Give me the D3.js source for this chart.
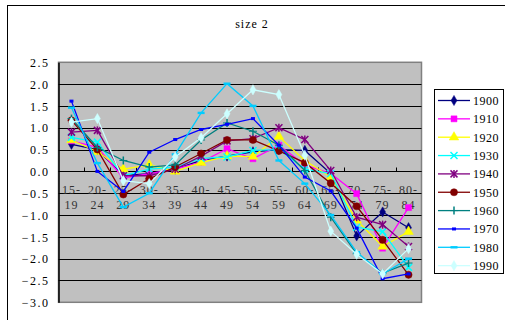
<!DOCTYPE html>
<html>
<head>
<meta charset="utf-8">
<script src="https://cdn.jsdelivr.net/npm/d3@7"></script>
<style>
  html, body { margin: 0; padding: 0; background: #fff; }
  svg { display: block; }
  text { font-family: "Liberation Serif", "DejaVu Serif", serif; fill: #000; }
</style>
</head>
<body>
<svg id="chart" width="505" height="320"></svg>
<script>
// Age groups (upper line / lower line of each label)
const ageTop = ["15-","20-","25-","30-","35-","40-","45-","50-","55-","60-","65-","70-","75-","80-"];
const ageBottom = ["19","24","29","34","39","44","49","54","59","64","69","74","79","84"];
const categories = ageTop.map((t, i) => t + ageBottom[i]);

const yTicks = [2.5, 2.0, 1.5, 1.0, 0.5, 0.0, -0.5, -1.0, -1.5, -2.0, -2.5, -3.0];

// One series per birth cohort
const cohorts = ["1900","1910","1920","1930","1940","1950","1960","1970","1980","1990"];
const v1900 = [0.62, 0.50, -0.10, -0.05, 0.05, 0.25, 0.35, 0.45, 0.50, 0.48, -0.05, -1.48, -0.93, -1.29];
const v1910 = [0.70, 0.55, -0.15, -0.05, 0.05, 0.21, 0.52, 0.29, 0.60, 0.15, -0.05, -0.51, -1.76, -0.83];
const v1920 = [0.72, 0.45, 0.05, 0.15, 0.00, 0.20, 0.35, 0.34, 0.80, 0.25, -0.13, -1.12, -1.72, -1.38];
const v1930 = [0.78, 0.67, -0.10, 0.05, 0.10, 0.30, 0.33, 0.48, 0.50, 0.05, -0.05, -1.28, -1.38, -2.20];
const v1940 = [0.90, 0.94, -0.10, -0.10, 0.05, 0.35, 0.70, 0.75, 1.00, 0.73, 0.02, -1.05, -1.22, -1.72];
const v1950 = [1.17, 0.50, -0.53, -0.17, 0.10, 0.41, 0.72, 0.72, 0.47, 0.20, -0.27, -0.80, -1.57, -2.37];
const v1960 = [1.21, 0.55, 0.25, 0.10, 0.15, 0.72, 1.11, 0.92, 0.60, 0.02, -1.05, -1.89, -2.33, -2.10];
const v1970 = [1.61, 0.00, -0.46, 0.44, 0.73, 0.96, 1.08, 1.21, 0.60, -0.13, -0.45, -1.30, -2.46, -2.35];
const v1980 = [1.46, 0.19, -0.82, -0.50, 0.39, 1.34, 2.01, 1.50, 0.25, -0.28, -1.00, -1.85, -2.35, -2.00];
const v1990 = [1.13, 1.21, -0.21, -0.28, 0.33, 0.77, 1.32, 1.87, 1.76, 0.37, -1.37, -1.90, -2.35, -1.77];
const seriesValues = [v1900, v1910, v1920, v1930, v1940, v1950, v1960, v1970, v1980, v1990];

const colors = ["#000080","#ff00ff","#ffff00","#00ffff","#800080","#800000","#008080","#0000ff","#00ccff","#ccffff"];
const markers = ["diamond","square","triangle","x","star","circle","plus","smallsq","dash","diamond"];

const svg = d3.select("#chart");

// Chart frame
svg.append("rect")
  .attr("x", 7.5).attr("y", 5.5).attr("width", 600).attr("height", 400)
  .attr("fill", "#fff").attr("stroke", "#000").attr("stroke-width", 1);

svg.append("text")
  .attr("x", 252).attr("y", 28)
  .attr("text-anchor", "middle")
  .style("font-size", "12px").style("letter-spacing", "1px")
  .text("size 2");

const plot = { left: 58.5, right: 421.5, top: 62.3, bottom: 302.3 };

const x = d3.scaleBand().domain(categories).range([plot.left, plot.right]).padding(0);
const y = d3.scaleLinear().domain([-3, 2.5]).range([plot.bottom, plot.top]);
const cx = c => x(c) + x.bandwidth() / 2;

// Plot area
svg.append("rect")
  .attr("x", plot.left).attr("y", plot.top)
  .attr("width", plot.right - plot.left).attr("height", plot.bottom - plot.top)
  .attr("fill", "#c0c0c0").attr("stroke", "#808080").attr("stroke-width", 1.5);

// Horizontal gridlines
svg.append("g")
  .selectAll("line")
  .data(yTicks.filter(t => t > -3 && t < 2.5))
  .join("line")
  .attr("x1", plot.left).attr("x2", plot.right)
  .attr("y1", d => Math.round(y(d)) + 0.5).attr("y2", d => Math.round(y(d)) + 0.5)
  .attr("stroke", "#000").attr("stroke-width", 1);

// Y axis
const yAxis = d3.axisLeft(y).tickValues(yTicks).tickSize(0).tickPadding(9)
  .tickFormat(d3.format(".1f"));
const gy = svg.append("g").attr("transform", `translate(${plot.left},0)`).call(yAxis);
gy.attr("font-family", null);
gy.select(".domain").attr("stroke", "#000").attr("stroke-width", 1.5);
gy.selectAll("text")
  .style("font-family", "'Liberation Serif', serif")
  .style("font-size", "12px").style("letter-spacing", "1.5px")
  .attr("dy", "0.35em")
  .text(d => d3.format(".1f")(d).replace("-", "\u2212"));

// X axis along zero
const y0 = Math.round(y(0)) + 0.5;
svg.append("line")
  .attr("x1", plot.left).attr("x2", plot.right)
  .attr("y1", y0).attr("y2", y0)
  .attr("stroke", "#000").attr("stroke-width", 1.2);
svg.append("g").selectAll("line")
  .data(categories.slice(1))
  .join("line")
  .attr("x1", d => Math.round(x(d)) + 0.5).attr("x2", d => Math.round(x(d)) + 0.5)
  .attr("y1", y0 - 4).attr("y2", y0)
  .attr("stroke", "#000");

const xl = svg.append("g").selectAll("text")
  .data(categories)
  .join("text")
  .attr("text-anchor", "middle")
  .style("font-size", "12px").style("letter-spacing", "1px")
  .style("fill", "#333");
xl.append("tspan").attr("x", d => cx(d)).attr("y", 194).text((d, i) => ageTop[i]);
xl.append("tspan").attr("x", d => cx(d)).attr("y", 209).text((d, i) => ageBottom[i]);

// Marker drawing
function drawMarker(g, type, color, px, py) {
  const sym = (t, size) => g.append("path")
    .attr("d", d3.symbol(t, size)())
    .attr("transform", `translate(${px},${py})`)
    .attr("fill", color).attr("stroke", color).attr("stroke-width", 0.5);
  const seg = (x1, y1, x2, y2, w) => g.append("line")
    .attr("x1", px + x1).attr("y1", py + y1).attr("x2", px + x2).attr("y2", py + y2)
    .attr("stroke", color).attr("stroke-width", w);
  switch (type) {
    case "diamond": sym(d3.symbolDiamond, 30); break;
    case "square": sym(d3.symbolSquare, 36); break;
    case "triangle": sym(d3.symbolTriangle, 40); break;
    case "circle": sym(d3.symbolCircle, 40); break;
    case "x": seg(-3.5, -3.5, 3.5, 3.5, 1.5); seg(-3.5, 3.5, 3.5, -3.5, 1.5); break;
    case "star":
      seg(-3.5, -3.5, 3.5, 3.5, 1.5); seg(-3.5, 3.5, 3.5, -3.5, 1.5); seg(0, -4, 0, 4, 1.5); break;
    case "plus": seg(-4, 0, 4, 0, 1); seg(0, -4, 0, 4, 1.5); break;
    case "smallsq":
      g.append("rect").attr("x", px - 2).attr("y", py - 1.5).attr("width", 4).attr("height", 3)
        .attr("fill", color); break;
    case "dash":
      g.append("rect").attr("x", px - 3.5).attr("y", py - 1.2).attr("width", 7).attr("height", 2.4)
        .attr("fill", color); break;
  }
}

// Series lines and markers
const line = d3.line().x((d, i) => cx(categories[i])).y(d => y(d));
seriesValues.forEach((vals, s) => {
  const g = svg.append("g");
  g.append("path")
    .attr("d", line(vals))
    .attr("fill", "none").attr("stroke", colors[s]).attr("stroke-width", 1.3);
  vals.forEach((v, i) => drawMarker(g, markers[s], colors[s], cx(categories[i]), y(v)));
});

// Legend
const legend = svg.append("g");
legend.append("rect")
  .attr("x", 434.5).attr("y", 89.5).attr("width", 69).attr("height", 184)
  .attr("fill", "#fff").attr("stroke", "#000").attr("stroke-width", 1);
cohorts.forEach((name, s) => {
  const ly = 100.5 + s * 18.35;
  const g = legend.append("g");
  g.append("line").attr("x1", 438).attr("x2", 470).attr("y1", ly).attr("y2", ly)
    .attr("stroke", colors[s]).attr("stroke-width", 1.3);
  drawMarker(g, markers[s], colors[s], 454, ly);
  g.append("text").attr("x", 473).attr("y", ly + 4.5)
    .style("font-size", "12px").style("letter-spacing", "0.5px")
    .text(name);
});
</script>
</body>
</html>
